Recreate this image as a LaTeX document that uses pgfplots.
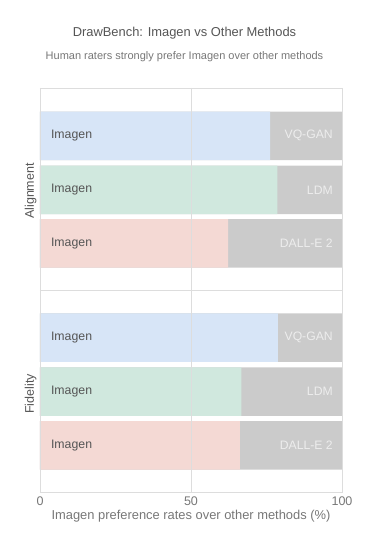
\documentclass[border=0pt]{standalone}
\usepackage{pgfplots}
\pgfplotsset{compat=1.18}
\usepackage{fontspec}
\setmainfont{Liberation Sans}
\definecolor{cblue}{HTML}{D7E5F7}
\definecolor{cgreen}{HTML}{D0E8DE}
\definecolor{cpink}{HTML}{F4D9D4}
\definecolor{cgray}{HTML}{CBCBCB}
\definecolor{cline}{HTML}{DDDDDD}
\definecolor{ctext}{HTML}{555555}
\definecolor{csub}{HTML}{777777}
\begin{document}
\begin{tikzpicture}[x=1pt,y=1pt]
\useasboundingbox (0,0) rectangle (376,560);
\node[font=\fontsize{12.9}{14}\selectfont, text=ctext] at (184.5,527) {DrawBench: Imagen vs Other Methods};
\node[font=\fontsize{11}{12}\selectfont, text=csub] at (184.5,503) {Human raters strongly prefer Imagen over other methods};
\begin{axis}[
  at={(40pt,67.3pt)}, anchor=south west,
  width=302pt, height=404.7pt, scale only axis,
  xmin=0, xmax=100, ymin=0, ymax=404.7,
  axis on top,
  /pgf/number format/assume math mode=true,
  axis line style={draw=cline},
  xtick={0,50,100},
  xmajorgrids, grid style={draw=cline},
  major tick style={draw=cline},
  xtick style={draw=cline},
  major tick length=3pt,
  ytick={100.7,303.7},
  yticklabels={Fidelity,Alignment},
  ytick style={draw=none},
  yticklabel style={rotate=90, anchor=south, font=\fontsize{12.5}{14}\selectfont, text=ctext, xshift=-2pt},
  extra y ticks={0,202.7,404.7},
  extra y tick labels={},
  extra y tick style={grid=major, major tick length=7pt, tick align=outside, tick style={draw=cline}, grid style={draw=cline}},
  ticklabel style={text=csub},
  xticklabel style={font=\fontsize{12.5}{14}\selectfont, text=csub, yshift=-1pt},
  xlabel={Imagen preference rates over other methods (\%)},
  xlabel style={font=\fontsize{12.9}{14}\selectfont, text=csub, yshift=3pt},
]
% other method share (gray), full bar to 100
\addplot[xbar, bar shift=0pt, bar width=48.5, fill=cgray, draw=none] coordinates {(100,47.4) (100,101.0) (100,155.0) (100,249.2) (100,302.8) (100,356.9)};
% Imagen preference rates
\addplot[xbar, bar shift=0pt, bar width=48.5, fill=cblue, draw=none] coordinates {(76.2,356.9) (78.8,155.0)};
\addplot[xbar, bar shift=0pt, bar width=48.5, fill=cgreen, draw=none] coordinates {(78.6,302.8) (66.7,101.0)};
\addplot[xbar, bar shift=0pt, bar width=48.5, fill=cpink, draw=none] coordinates {(62.3,249.2) (66.2,47.4)};
% labels
\addplot[draw=none, mark=none, nodes near coords, point meta=explicit symbolic,
  nodes near coords style={anchor=west, inner sep=0pt, font=\fontsize{12.3}{13}\selectfont, text=ctext}]
  table[meta=label] {
x y label
3.6 356.9 Imagen
3.6 302.8 Imagen
3.6 249.2 Imagen
3.6 155.0 Imagen
3.6 101.0 Imagen
3.6 47.4 Imagen
};
\addplot[draw=none, mark=none, nodes near coords, point meta=explicit symbolic,
  nodes near coords style={anchor=east, inner sep=0pt, font=\fontsize{12.2}{13}\selectfont, text=white!93!black}]
  table[meta=label] {
x y label
97.0 356.9 VQ-GAN
97.0 302.8 LDM
97.0 249.2 {DALL-E 2}
97.0 155.0 VQ-GAN
97.0 101.0 LDM
97.0 47.4 {DALL-E 2}
};
\end{axis}
\end{tikzpicture}
\end{document}
